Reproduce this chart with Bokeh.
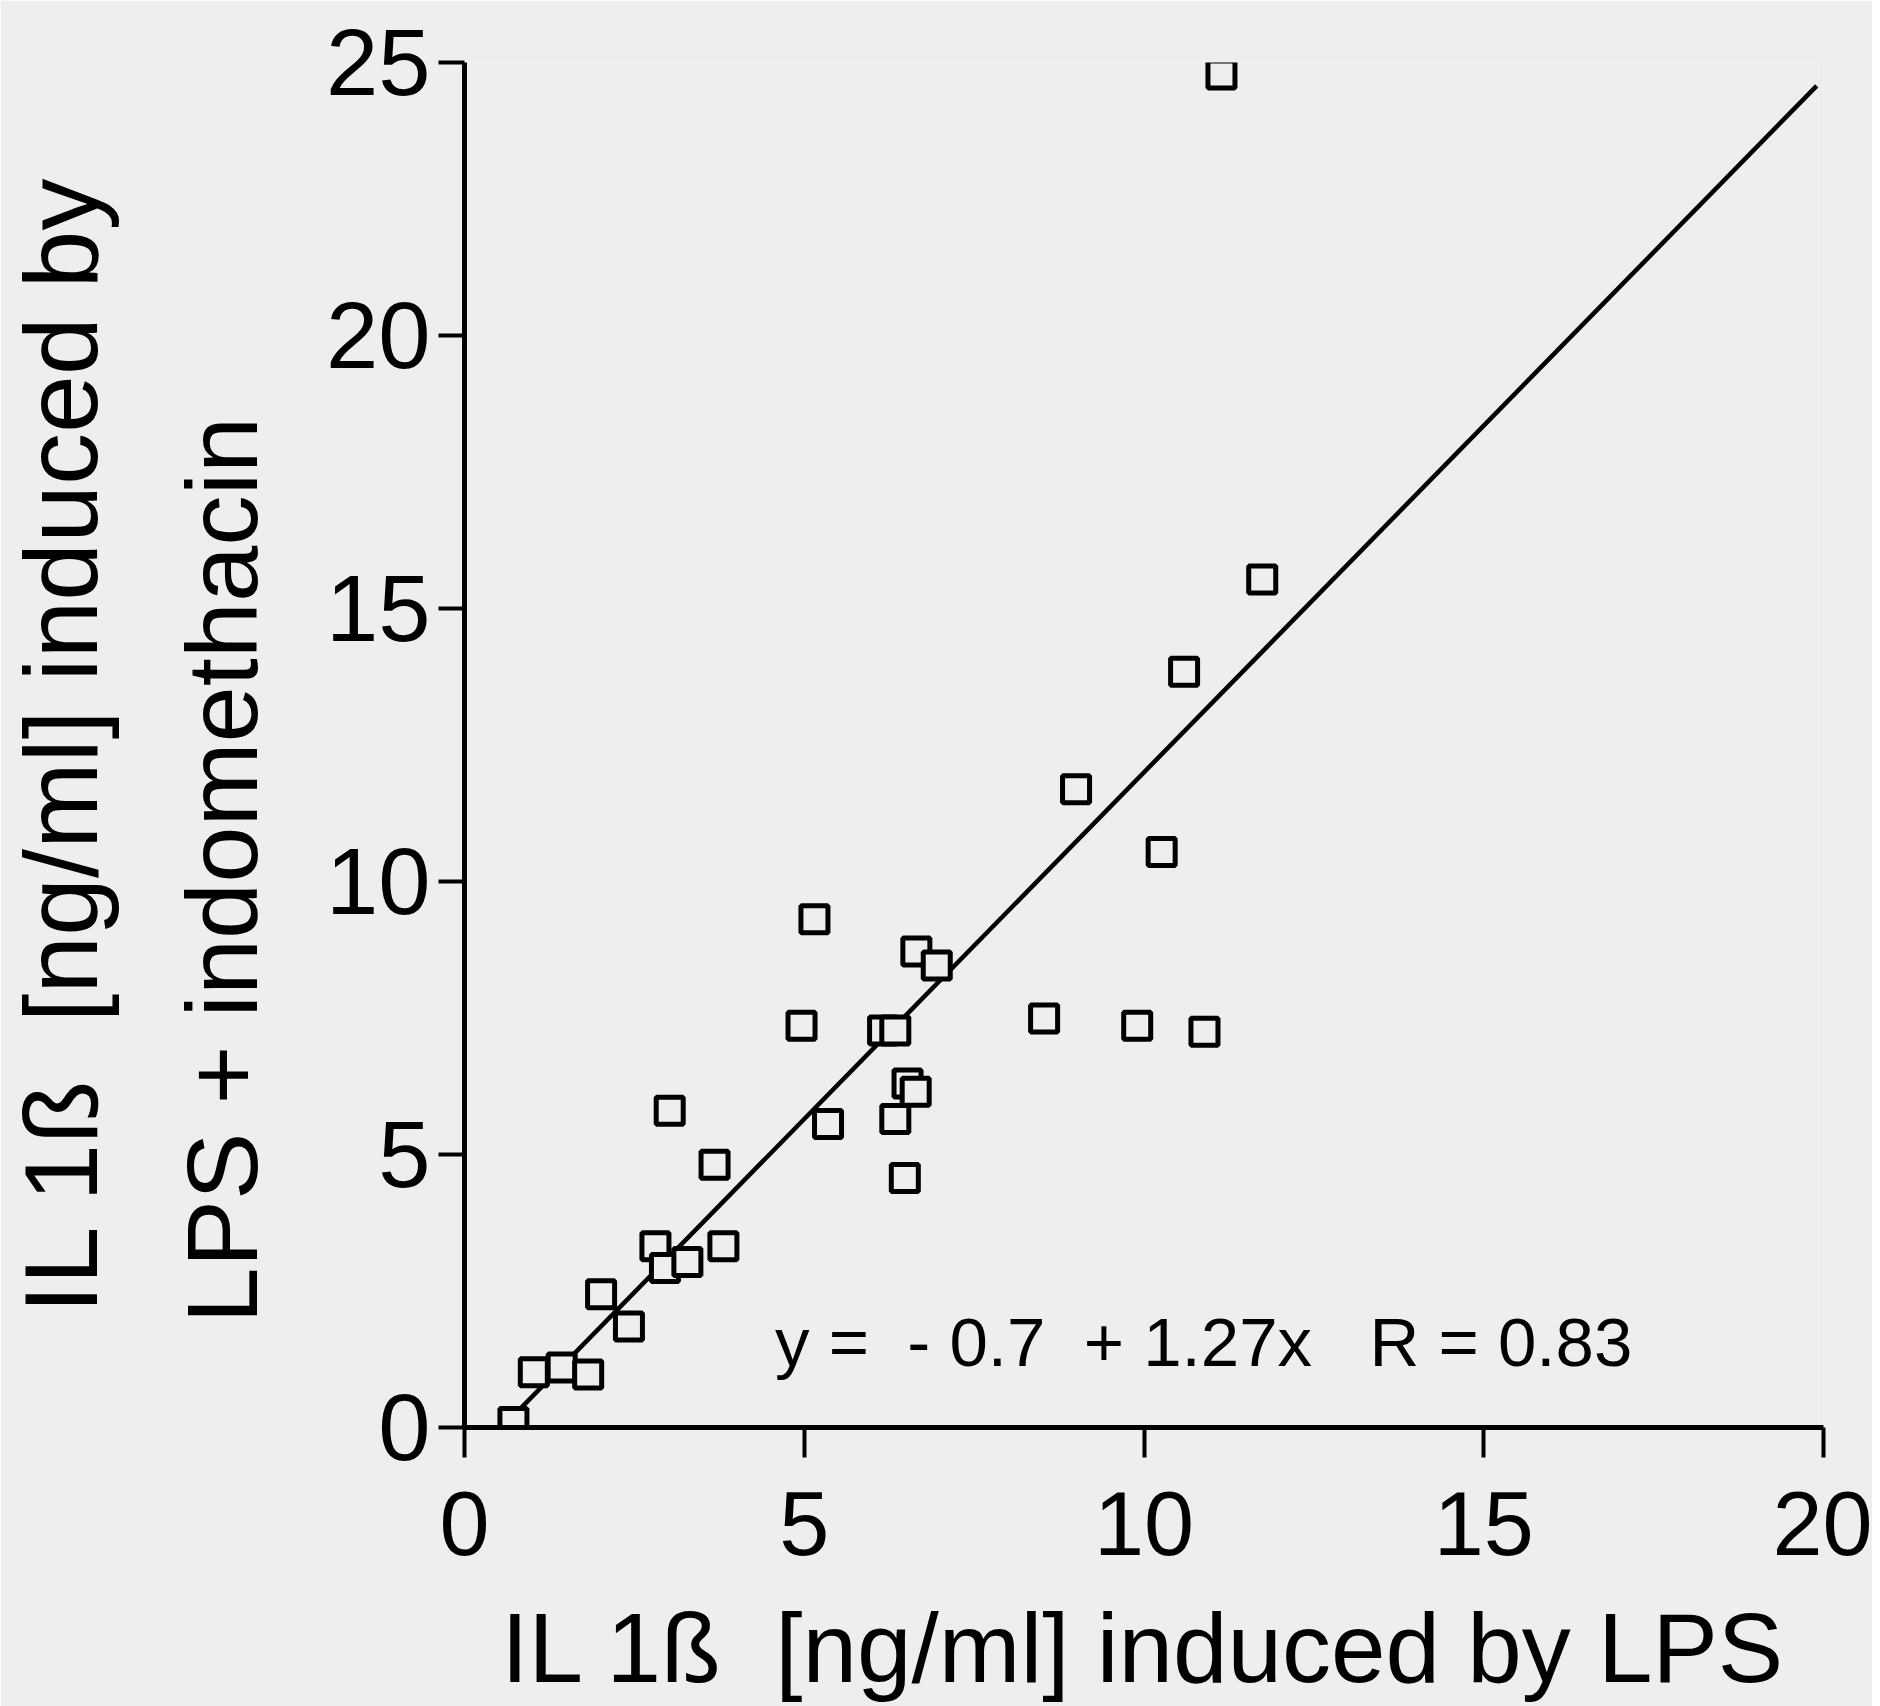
from bokeh.plotting import figure
from bokeh.models import Range1d, Label, FixedTicker, ColumnDataSource, Title
from bokeh.embed import file_html
from bokeh.resources import INLINE

# ---- data ----
x_lps = [11.14, 11.74, 10.59, 9.00, 10.26, 5.15, 6.65, 6.95, 4.96, 6.16, 6.34,
         8.53, 9.90, 10.89, 3.02, 5.35, 6.52, 6.64, 6.34, 6.48, 3.68, 2.81,
         2.95, 3.28, 3.81, 2.01, 2.42, 1.02, 1.43, 1.82, 0.72]
y_indo = [24.78, 15.53, 13.84, 11.69, 10.54, 9.31, 8.72, 8.46, 7.36, 7.27, 7.27,
          7.49, 7.36, 7.25, 5.80, 5.56, 6.30, 6.15, 5.65, 4.57, 4.81, 3.32,
          2.92, 3.03, 3.32, 2.44, 1.85, 1.01, 1.10, 0.97, 0.10]
fit_intercept = -0.7
fit_slope = 1.27
fit_r = 0.83
fit_x = [0.55, 19.9]
x_ticks = [0, 5, 10, 15, 20]
y_ticks = [0, 5, 10, 15, 20, 25]

NB = "\u00a0"
x_label = "IL 1ß " + NB + "[ng/ml] induced by LPS"
y_label_1 = "IL 1ß " + NB + "[ng/ml] induced by"
y_label_2 = "LPS + indomethacin"
eq_text = "y =" + NB + " - 0.7" + NB + " + 1.27x" + NB + NB + " R = 0.83"

FONT = "Liberation Sans"
BG = "#eeeeee"

W, H = 1872, 1706
p = figure(width=W, height=H, output_backend="svg", toolbar_location=None,
           x_range=Range1d(0, 20), y_range=Range1d(0, 25),
           min_border_left=464, min_border_right=49,
           min_border_top=62, min_border_bottom=279)
p.background_fill_color = BG
p.border_fill_color = BG
p.outline_line_color = None
p.grid.visible = False

for ax in (p.xaxis[0], p.yaxis[0]):
    ax.axis_line_width = 5
    ax.axis_line_color = "black"
    ax.major_tick_line_width = 4
    ax.major_tick_line_color = "black"
    ax.major_tick_in = 0
    ax.minor_tick_line_color = None
    ax.major_label_text_font = FONT
    ax.major_label_text_color = "black"

p.xaxis.ticker = FixedTicker(ticks=x_ticks)
p.yaxis.ticker = FixedTicker(ticks=y_ticks)
p.xaxis.major_tick_out = 30
p.yaxis.major_tick_out = 26
p.xaxis.major_label_text_font_size = "90px"
p.yaxis.major_label_text_font_size = "94px"
p.xaxis.major_label_standoff = 34
p.yaxis.major_label_standoff = 8

p.xaxis.axis_label = x_label
p.xaxis.axis_label_text_font = FONT
p.xaxis.axis_label_text_font_style = "normal"
p.xaxis.axis_label_text_font_size = "98px"
p.xaxis.axis_label_text_color = "black"
p.xaxis.axis_label_standoff = 35

# y-axis label: two lines, both starting at the same height
t2 = Title(text=y_label_2, align="left", offset=104, standoff=90,
           text_font=FONT, text_font_style="normal", text_font_size="101px",
           text_color="black")
t1 = Title(text=y_label_1, align="left", offset=114, standoff=0,
           text_font=FONT, text_font_style="normal", text_font_size="104px",
           text_color="black")
p.add_layout(t2, "left")
p.add_layout(t1, "left")

# regression line
fit_y = [fit_intercept + fit_slope * v for v in fit_x]
p.line(fit_x, fit_y, line_color="black", line_width=4.5)

# data points
src = ColumnDataSource(dict(x=x_lps, y=y_indo))
p.scatter("x", "y", source=src, marker="square", size=27,
          line_color="black", line_width=5, fill_color=BG)

eq = Label(x=4.57, y=1.55, text=eq_text, text_align="left",
           text_baseline="alphabetic", text_font=FONT, text_font_size="69px",
           text_color="black")
p.add_layout(eq)

open("out.html", "w").write(file_html(p, INLINE))
